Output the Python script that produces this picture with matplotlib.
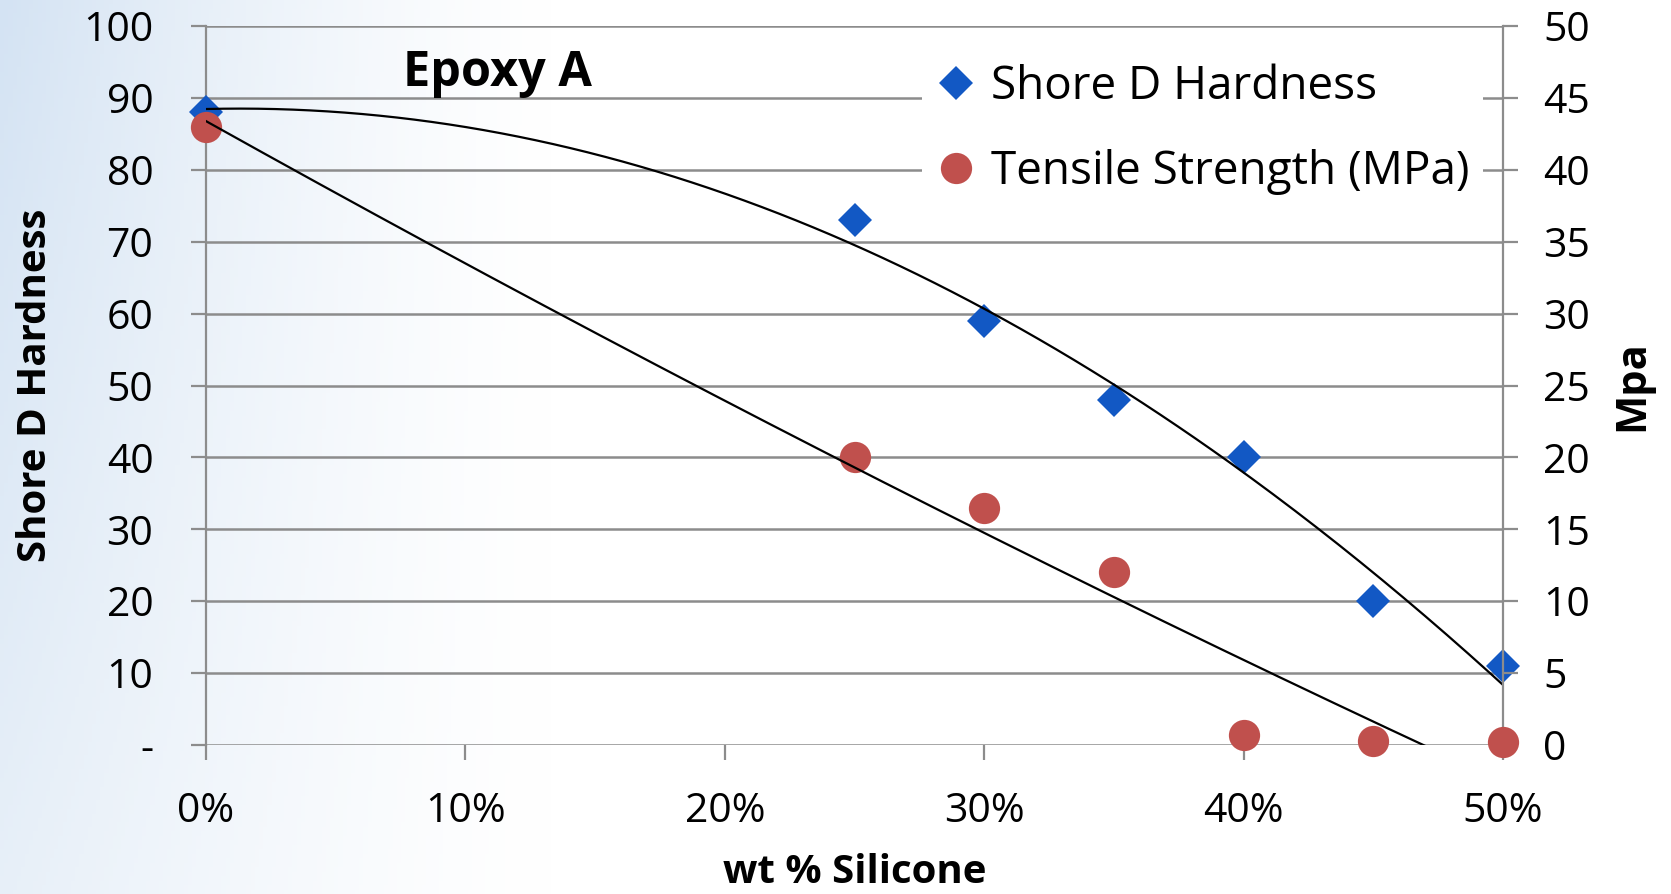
import numpy as np
import matplotlib
matplotlib.use("Agg")
import matplotlib.pyplot as plt
from matplotlib.ticker import FixedLocator
from matplotlib.lines import Line2D

# ---- data ----
silicone_wt = [0.00, 0.25, 0.30, 0.35, 0.40, 0.45, 0.50]
shore_d = [88, 73, 59, 48, 40, 20, 11]
tensile_mpa = [43.0, 20.0, 16.5, 12.0, 0.7, 0.3, 0.2]
x_ticks = [0.0, 0.1, 0.2, 0.3, 0.4, 0.5]
x_tick_labels = ["0%", "10%", "20%", "30%", "40%", "50%"]
left_ticks = [0, 10, 20, 30, 40, 50, 60, 70, 80, 90, 100]
left_tick_labels = ["-", "10", "20", "30", "40", "50", "60", "70", "80", "90", "100"]
right_ticks = [0, 5, 10, 15, 20, 25, 30, 35, 40, 45, 50]

FONT = ["Open Sans", "DejaVu Sans"]
plt.rcParams["font.family"] = FONT

W, H, DPI = 1671, 894, 100
fig = plt.figure(figsize=(W / DPI, H / DPI), dpi=DPI)

# background gradient (light blue on the left fading to white)
bg = fig.add_axes([0, 0, 1, 1], zorder=-10)
bg.axis("off")
gx = np.linspace(0, 1, 400)
gy = np.linspace(0, 1, 200)
GX, GY = np.meshgrid(gx, gy)
amt = np.clip(1 - GX / 0.33, 0, 1) ** 1.3 * (1.0 - 0.45 * GY)
top = np.array([212, 227, 243]) / 255.0
white = np.array([1.0, 1.0, 1.0])
img = white[None, None, :] * (1 - amt[..., None]) + top[None, None, :] * amt[..., None]
bg.imshow(img, aspect="auto", extent=[0, 1, 0, 1], origin="upper")
bg.set_xlim(0, 1)
bg.set_ylim(0, 1)

L, R, T, B = 206, 1503, 26, 745
ax = fig.add_axes([L / W, 1 - B / H, (R - L) / W, (B - T) / H])
ax.patch.set_alpha(0)
ax2 = ax.twinx()
ax2.patch.set_alpha(0)

GRID = "#8c8c8c"
BLUE = "#1258c4"
RED = "#c0504d"

ax.set_xlim(0, 0.5)
ax.set_ylim(0, 100)
ax2.set_ylim(0, 50)

for a in (ax, ax2):
    for s in a.spines.values():
        s.set_visible(False)

ax.spines["left"].set_visible(True)
ax.spines["left"].set_color(GRID)
ax.spines["left"].set_linewidth(1.6)
ax2.spines["right"].set_visible(True)
ax2.spines["right"].set_color(GRID)
ax2.spines["right"].set_linewidth(1.6)

ax.yaxis.set_major_locator(FixedLocator(left_ticks))
ax.set_yticklabels(left_tick_labels)
ax2.yaxis.set_major_locator(FixedLocator(right_ticks))
ax2.set_yticklabels([str(v) for v in right_ticks])
ax.xaxis.set_major_locator(FixedLocator(x_ticks))
ax.set_xticklabels(x_tick_labels)

ax.yaxis.grid(True, color=GRID, linewidth=1.8)
ax.set_axisbelow(True)

TS = 29.5
tick_len = 15 * 72 / DPI
ax.tick_params(axis="y", direction="out", length=tick_len, width=1.6, color=GRID,
               labelsize=TS, pad=27, labelcolor="black")
ax.tick_params(axis="x", direction="out", length=tick_len, width=1.6, color=GRID,
               labelsize=TS, pad=23, labelcolor="black")
ax2.tick_params(axis="y", direction="out", length=tick_len, width=1.6, color=GRID,
                labelsize=TS, pad=18, labelcolor="black")

# scatter points
DS, CS = 17.5, 22.5
ax.plot(silicone_wt, shore_d, linestyle="none", marker="D", markersize=DS,
        color=BLUE, markeredgewidth=0, zorder=3, clip_on=False)
ax2.plot(silicone_wt, tensile_mpa, linestyle="none", marker="o", markersize=CS,
         color=RED, markeredgewidth=0, zorder=3, clip_on=False)

# polynomial (order 2) trendlines
xs = np.linspace(0, 0.5, 300)
c1 = np.polyfit(silicone_wt, shore_d, 2)
ax.plot(xs, np.polyval(c1, xs), color="black", linewidth=1.6, zorder=4)
c2 = np.polyfit(silicone_wt, tensile_mpa, 2)
ax2.plot(xs, np.polyval(c2, xs), color="black", linewidth=1.6, zorder=4)

# labels
LS = 29
ax.set_ylabel("Shore D Hardness", fontsize=LS, fontweight="bold", labelpad=20)
ax2.set_ylabel("Mpa", fontsize=LS + 1, fontweight="bold", rotation=90, labelpad=16)
ax.set_xlabel("wt % Silicone", fontsize=LS, fontweight="bold", labelpad=15)

fig.text(403 / W, 1 - 73 / H, "Epoxy A", fontsize=35, fontweight="bold",
         ha="left", va="center")

handles = [
    Line2D([], [], linestyle="none", marker="D", markersize=DS, color=BLUE, markeredgewidth=0),
    Line2D([], [], linestyle="none", marker="o", markersize=CS, color=RED, markeredgewidth=0),
]
leg = ax2.legend(handles, ["Shore D Hardness", "Tensile Strength (MPa)"],
                 loc="upper left", bbox_to_anchor=(922 / W, 1 - 50 / H),
                 bbox_transform=fig.transFigure, fontsize=33, frameon=True,
                 facecolor="white", edgecolor="none", framealpha=1, fancybox=False,
                 handlelength=0.9, handletextpad=0.3, labelspacing=0.85,
                 borderpad=0.3, borderaxespad=0)
leg.set_zorder(5)

fig.savefig("out.png", dpi=DPI)
